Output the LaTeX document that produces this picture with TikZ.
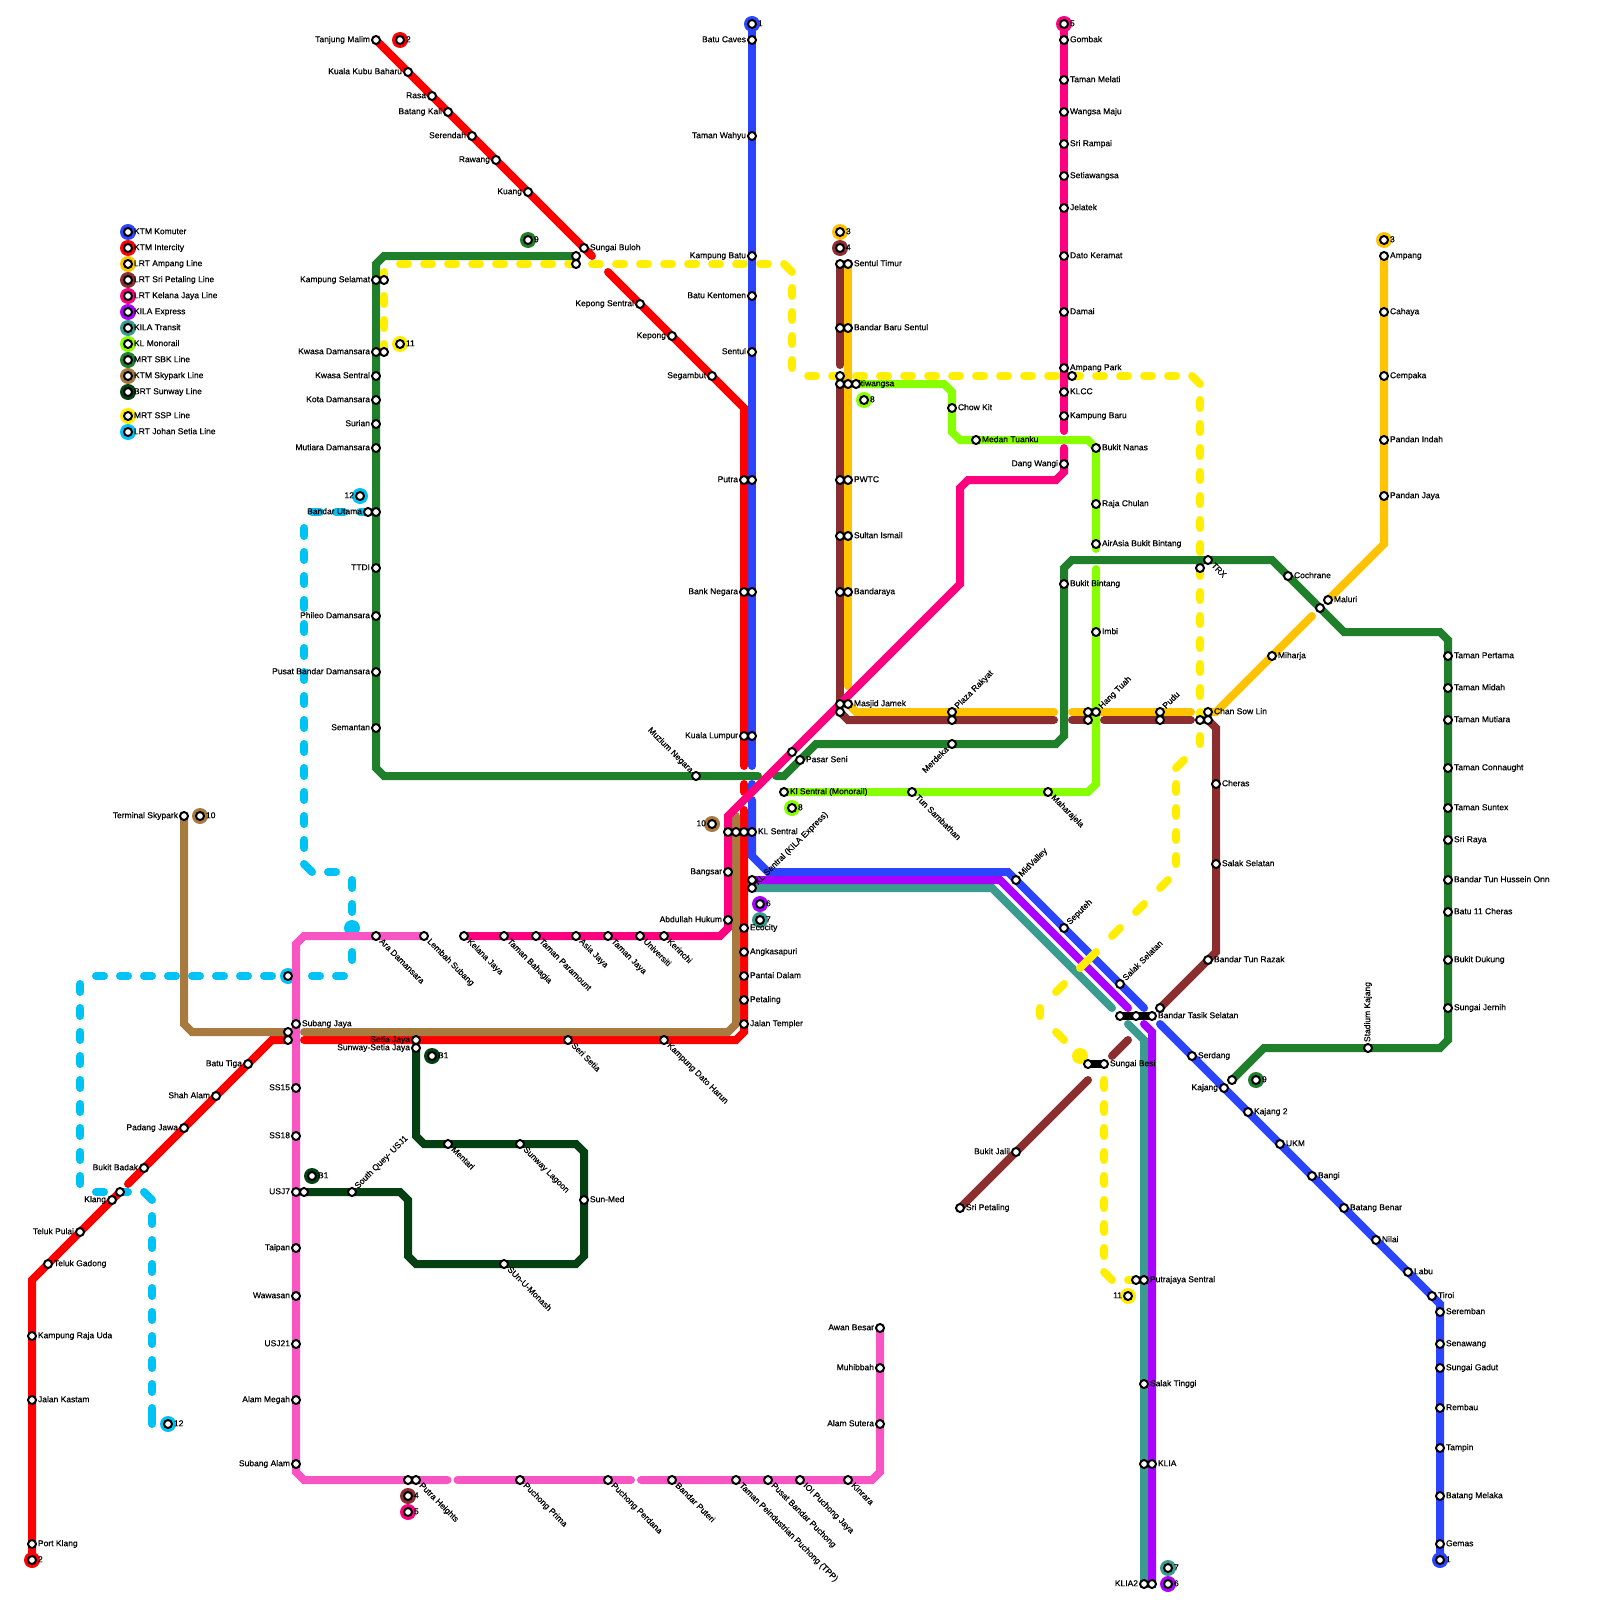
\documentclass[tikz,border=0pt]{standalone}
\usepackage{fontspec}
\setmainfont[FakeBold=0.4]{Liberation Sans}
\definecolor{cKom}{HTML}{2B45FF}
\definecolor{cInt}{HTML}{FF0000}
\definecolor{cAmp}{HTML}{FFC300}
\definecolor{cSri}{HTML}{8A2E2F}
\definecolor{cKel}{HTML}{FF007F}
\definecolor{cExp}{HTML}{AA00FF}
\definecolor{cTra}{HTML}{3A9B8E}
\definecolor{cMon}{HTML}{88FF00}
\definecolor{cSbk}{HTML}{1F7F2B}
\definecolor{cSky}{HTML}{A87A40}
\definecolor{cBrt}{HTML}{054012}
\definecolor{cSsp}{HTML}{FFEE00}
\definecolor{cJoh}{HTML}{00C2F5}
\definecolor{cPnk}{HTML}{F655C3}
\pgfdeclarelayer{bg}
\pgfdeclarelayer{lab}
\pgfsetlayers{bg,lab,main}
\tikzset{
  stat/.style={circle,draw=black,fill=white,line width=2pt,minimum size=8pt,inner sep=0pt,outer sep=0pt},
  disc/.style={circle,minimum size=16pt,inner sep=0pt,outer sep=0pt},
  lab/.style={font=\fontsize{8.5}{10}\selectfont,text=black,inner sep=0pt,outer sep=0pt,text height=6.2pt,text depth=1.8pt},
  labN/.style={lab},
  labR/.style={lab,anchor=west,xshift=6pt},
  labL/.style={lab,anchor=east,xshift=-6pt},
  labD/.style={lab,xshift=4.5pt,yshift=-4.5pt,rotate=-45,anchor=west},
  labU/.style={lab,xshift=4.5pt,yshift=4.5pt,rotate=45,anchor=west},
  labUL/.style={lab,xshift=-4.5pt,yshift=4.5pt,rotate=-45,anchor=east},
  labDL/.style={lab,xshift=-4.5pt,yshift=-4.5pt,rotate=45,anchor=east},
  labV/.style={lab,yshift=6pt,rotate=90,anchor=west},
  ln/.style={line width=8pt,line cap=round,line join=miter,miter limit=10},
}
\newcommand\stn[5]{\node[stat] (#1) at (#2,#3) {};\begin{pgfonlayer}{lab}\node[lab#4] (#1T) at (#2,#3) {#5};\end{pgfonlayer}}
\newcommand\sn[3]{\node[stat] (#1) at (#2,#3) {};}
\newcommand\trm[6]{\begin{pgfonlayer}{bg}\node[disc,fill=#2] (#1D) at (#3,#4) {};\end{pgfonlayer}\node[stat] (#1) at (#3,#4) {};\begin{pgfonlayer}{lab}\node[lab#5] (#1T) at (#3,#4) {#6};\end{pgfonlayer}}
\begin{document}
\begin{tikzpicture}[x=1pt,y=-1pt]
\useasboundingbox (0,0) rectangle (1600,1600);
\begin{pgfonlayer}{bg}\fill[white] (0,0) rectangle (1600,1600);\end{pgfonlayer}
% legend
\trm{LgA}{cKom}{128}{232}{R}{KTM Komuter}
\trm{LgB}{cInt}{128}{248}{R}{KTM Intercity}
\trm{LgC}{cAmp}{128}{264}{R}{LRT Ampang Line}
\trm{LgD}{cSri}{128}{280}{R}{LRT Sri Petaling Line}
\trm{LgE}{cKel}{128}{296}{R}{LRT Kelana Jaya Line}
\trm{LgF}{cExp}{128}{312}{R}{KILA Express}
\trm{LgG}{cTra}{128}{328}{R}{KILA Transit}
\trm{LgH}{cMon}{128}{344}{R}{KL Monorail}
\trm{LgI}{cSbk}{128}{360}{R}{MRT SBK Line}
\trm{LgJ}{cSky}{128}{376}{R}{KTM Skypark Line}
\trm{LgK}{cBrt}{128}{392}{R}{BRT Sunway Line}
\trm{LgL}{cSsp}{128}{416}{R}{MRT SSP Line}
\trm{LgM}{cJoh}{128}{432}{R}{LRT Johan Setia Line}
% terminal markers
\trm{TaA}{cKom}{752}{24}{R}{1}
\trm{TaB}{cKom}{1440}{1560}{R}{1}
\trm{TbA}{cInt}{400}{40}{R}{2}
\trm{TbB}{cInt}{32}{1560}{R}{2}
\trm{TcA}{cAmp}{840}{232}{R}{3}
\trm{TcB}{cAmp}{1384}{240}{R}{3}
\trm{TdA}{cSri}{840}{248}{R}{4}
\trm{TdB}{cSri}{408}{1496}{R}{4}
\trm{TeA}{cKel}{1064}{24}{R}{5}
\trm{TeB}{cKel}{408}{1512}{R}{5}
\trm{TfA}{cExp}{760}{904}{R}{6}
\trm{TfB}{cExp}{1168}{1584}{R}{6}
\trm{TgA}{cTra}{760}{920}{R}{7}
\trm{TgB}{cTra}{1168}{1568}{R}{7}
\trm{ThA}{cMon}{864}{400}{R}{8}
\trm{ThB}{cMon}{792}{808}{R}{8}
\trm{TiA}{cSbk}{528}{240}{R}{9}
\trm{TiB}{cSbk}{1256}{1080}{R}{9}
\trm{TjA}{cSky}{200}{816}{R}{10}
\trm{TjB}{cSky}{712}{824}{L}{10}
\trm{TkA}{cSsp}{400}{344}{R}{11}
\trm{TkB}{cSsp}{1128}{1296}{L}{11}
\trm{TlA}{cJoh}{360}{496}{L}{12}
\trm{TlB}{cJoh}{168}{1424}{R}{12}
\trm{TlC}{cJoh}{288}{976}{N}{}
\trm{TmA}{cBrt}{432}{1056}{R}{B1}
\trm{TmB}{cBrt}{312}{1176}{R}{B1}
% KTM Komuter
\stn{BatuCaves}{752}{40}{L}{Batu Caves}
\stn{TamanWahyu}{752}{136}{L}{Taman Wahyu}
\stn{KgBatu}{752}{256}{L}{Kampung Batu}
\stn{BatuKent}{752}{296}{L}{Batu Kentomen}
\stn{Sentul}{752}{352}{L}{Sentul}
\sn{PutraB}{752}{480}
\sn{BankB}{752}{592}
\sn{KLB}{752}{736}
\stn{KSd}{752}{832}{R}{KL Sentral}
\stn{MidValley}{1016}{880}{U}{MidValley}
\stn{Seputeh}{1064}{928}{U}{Seputeh}
\stn{SalakA}{1120}{984}{U}{Salak Selatan}
\sn{BTSa}{1120}{1016}
\sn{BTSb}{1136}{1016}
\stn{BTSc}{1152}{1016}{R}{Bandar Tasik Selatan}
\stn{Serdang}{1192}{1056}{R}{Serdang}
\stn{Kajang}{1224}{1088}{L}{Kajang}
\stn{KajangB}{1248}{1112}{R}{Kajang 2}
\stn{UKM}{1280}{1144}{R}{UKM}
\stn{Bangi}{1312}{1176}{R}{Bangi}
\stn{BatuBenar}{1344}{1208}{R}{Batang Benar}
\stn{Nilai}{1376}{1240}{R}{Nilai}
\stn{Labu}{1408}{1272}{R}{Labu}
\stn{Tiroi}{1432}{1296}{R}{Tiroi}
\stn{Seremban}{1440}{1312}{R}{Seremban}
\stn{Senawang}{1440}{1344}{R}{Senawang}
\stn{SgGadut}{1440}{1368}{R}{Sungai Gadut}
\stn{Rembau}{1440}{1408}{R}{Rembau}
\stn{Tampin}{1440}{1448}{R}{Tampin}
\stn{BtgMelaka}{1440}{1496}{R}{Batang Melaka}
\stn{Gemas}{1440}{1544}{R}{Gemas}
% KTM Intercity
\stn{TgMalim}{376}{40}{L}{Tanjung Malim}
\stn{KKB}{408}{72}{L}{Kuala Kubu Baharu}
\stn{Rasa}{432}{96}{L}{Rasa}
\stn{BtgKali}{448}{112}{L}{Batang Kali}
\stn{Serendah}{472}{136}{L}{Serendah}
\stn{Rawang}{496}{160}{L}{Rawang}
\stn{Kuang}{528}{192}{L}{Kuang}
\stn{SgBuloh}{584}{248}{R}{Sungai Buloh}
\stn{KepongS}{640}{304}{L}{Kepong Sentral}
\stn{Kepong}{672}{336}{L}{Kepong}
\stn{Segambut}{712}{376}{L}{Segambut}
\stn{PutraA}{744}{480}{L}{Putra}
\stn{BankA}{744}{592}{L}{Bank Negara}
\stn{KLA}{744}{736}{L}{Kuala Lumpur}
\sn{KSc}{744}{832}
\stn{Ecocity}{744}{928}{R}{Ecocity}
\stn{Angkasa}{744}{952}{R}{Angkasapuri}
\stn{Pantai}{744}{976}{R}{Pantai Dalam}
\stn{Petaling}{744}{1000}{R}{Petaling}
\stn{Templer}{744}{1024}{R}{Jalan Templer}
\stn{DatoHarun}{664}{1040}{D}{Kampung Dato Harun}
\stn{SeriSetia}{568}{1040}{D}{Seri Setia}
\stn{SetiaJaya}{416}{1040}{L}{Setia Jaya}
\sn{SJb}{288}{1040}
\stn{BatuTiga}{248}{1064}{L}{Batu Tiga}
\stn{ShahAlam}{216}{1096}{L}{Shah Alam}
\stn{Padang}{184}{1128}{L}{Padang Jawa}
\stn{BkBadak}{144}{1168}{L}{Bukit Badak}
\sn{KlangB}{120}{1192}
\stn{Klang}{112}{1200}{L}{Klang}
\stn{TelukP}{80}{1232}{L}{Teluk Pulai}
\stn{TelukG}{48}{1264}{R}{Teluk Gadong}
\stn{RajaUda}{32}{1336}{R}{Kampung Raja Uda}
\stn{Kastam}{32}{1400}{R}{Jalan Kastam}
\stn{PortKlang}{32}{1544}{R}{Port Klang}
% Ampang / Sri Petaling
\sn{STa}{840}{264}
\stn{STb}{848}{264}{R}{Sentul Timur}
\sn{BBa}{840}{328}
\stn{BBb}{848}{328}{R}{Bandar Baru Sentul}
\sn{TWx}{840}{376}
\sn{TWa}{840}{384}
\stn{TWb}{848}{384}{R}{Titiwangsa}
\sn{TWc}{856}{384}
\sn{PWa}{840}{480}
\stn{PWb}{848}{480}{R}{PWTC}
\sn{SIa}{840}{536}
\stn{SIb}{848}{536}{R}{Sultan Ismail}
\sn{BRa}{840}{592}
\stn{BRb}{848}{592}{R}{Bandaraya}
\sn{MJa}{840}{704}
\stn{MJb}{848}{704}{R}{Masjid Jamek}
\sn{MJc}{840}{712}
\stn{PRa}{952}{712}{U}{Plaza Rakyat}
\sn{PRb}{952}{720}
\sn{HTa}{1088}{712}
\stn{HTc}{1096}{712}{U}{Hang Tuah}
\sn{HTb}{1088}{720}
\stn{Pudu}{1160}{712}{U}{Pudu}
\sn{PuduB}{1160}{720}
\stn{CSa}{1208}{712}{R}{Chan Sow Lin}
\sn{CSb}{1208}{720}
\sn{CSc}{1200}{720}
\stn{Cheras}{1216}{784}{R}{Cheras}
\stn{SalakB}{1216}{864}{R}{Salak Selatan}
\stn{BTR}{1208}{960}{R}{Bandar Tun Razak}
\sn{BTSd}{1160}{1008}
\sn{SBa}{1088}{1064}
\stn{SBb}{1104}{1064}{R}{Sungai Besi}
\stn{BkJalil}{1016}{1152}{L}{Bukit Jalil}
\stn{SriPet}{960}{1208}{R}{Sri Petaling}
\stn{Ampang}{1384}{256}{R}{Ampang}
\stn{Cahaya}{1384}{312}{R}{Cahaya}
\stn{Cempaka}{1384}{376}{R}{Cempaka}
\stn{PanIndah}{1384}{440}{R}{Pandan Indah}
\stn{PanJaya}{1384}{496}{R}{Pandan Jaya}
\stn{MaluriB}{1328}{600}{R}{Maluri}
\stn{Miharja}{1272}{656}{R}{Miharja}
% Kelana Jaya
\stn{Gombak}{1064}{40}{R}{Gombak}
\stn{Melati}{1064}{80}{R}{Taman Melati}
\stn{Wangsa}{1064}{112}{R}{Wangsa Maju}
\stn{Rampai}{1064}{144}{R}{Sri Rampai}
\stn{Setia}{1064}{176}{R}{Setiawangsa}
\stn{Jelatek}{1064}{208}{R}{Jelatek}
\stn{Keramat}{1064}{256}{R}{Dato Keramat}
\stn{Damai}{1064}{312}{R}{Damai}
\stn{AmpPark}{1064}{368}{R}{Ampang Park}
\sn{AmpParkB}{1072}{376}
\stn{KLCC}{1064}{392}{R}{KLCC}
\stn{KgBaru}{1064}{416}{R}{Kampung Baru}
\stn{Dang}{1064}{464}{L}{Dang Wangi}
\sn{PSa}{792}{752}
\sn{KSa}{728}{832}
\stn{Bangsar}{728}{872}{L}{Bangsar}
\stn{Abdullah}{728}{920}{L}{Abdullah Hukum}
\stn{Kerinchi}{664}{936}{D}{Kerinchi}
\stn{Universiti}{640}{936}{D}{Universiti}
\stn{TmJaya}{608}{936}{D}{Taman Jaya}
\stn{AsiaJaya}{576}{936}{D}{Asia Jaya}
\stn{Paramount}{536}{936}{D}{Taman Paramount}
\stn{Bahagia}{504}{936}{D}{Taman Bahagia}
\stn{KelanaJ}{464}{936}{D}{Kelana Jaya}
% Express / Transit
\sn{KExp}{752}{880}
\stn{KTra}{752}{888}{U}{KL Sentral (KILA Express)}
\sn{PSentralA}{1136}{1280}
\stn{PSentralB}{1144}{1280}{R}{Putrajaya Sentral}
\stn{SalakT}{1144}{1384}{R}{Salak Tinggi}
\sn{KLIAa}{1144}{1464}
\stn{KLIAb}{1152}{1464}{R}{KLIA}
\stn{KLIAc}{1144}{1584}{L}{KLIA2}
\sn{KLIAd}{1152}{1584}
% Monorail
\stn{Chow}{952}{408}{R}{Chow Kit}
\stn{Medan}{976}{440}{R}{Medan Tuanku}
\stn{BkNanas}{1096}{448}{R}{Bukit Nanas}
\stn{RajaC}{1096}{504}{R}{Raja Chulan}
\stn{AirAsia}{1096}{544}{R}{AirAsia Bukit Bintang}
\stn{Imbi}{1096}{632}{R}{Imbi}
\stn{Maharajela}{1048}{792}{D}{Maharajela}
\stn{TunS}{912}{792}{D}{Tun Sambathan}
\stn{KlMono}{784}{792}{R}{Kl Sentral (Monorail)}
% SBK
\sn{SBKa}{576}{256}
\sn{SBKb}{576}{264}
\stn{KSLa}{376}{280}{L}{Kampung Selamat}
\sn{KSLb}{384}{280}
\stn{KDa}{376}{352}{L}{Kwasa Damansara}
\sn{KDb}{384}{352}
\stn{KwasaS}{376}{376}{L}{Kwasa Sentral}
\stn{KotaD}{376}{400}{L}{Kota Damansara}
\stn{Surian}{376}{424}{L}{Surian}
\stn{Mutiara}{376}{448}{L}{Mutiara Damansara}
\stn{BUa}{368}{512}{L}{Bandar Utama}
\sn{BUb}{376}{512}
\stn{TTDI}{376}{568}{L}{TTDI}
\stn{Phileo}{376}{616}{L}{Phileo Damansara}
\stn{PusatB}{376}{672}{L}{Pusat Bandar Damansara}
\stn{Semantan}{376}{728}{L}{Semantan}
\stn{Muzium}{696}{776}{UL}{Muzium Negara}
\stn{PSb}{800}{760}{R}{Pasar Seni}
\stn{Merdeka}{952}{744}{DL}{Merdeka}
\stn{BkBintang}{1064}{584}{R}{Bukit Bintang}
\stn{TRXa}{1208}{560}{D}{TRX}
\sn{TRXb}{1200}{568}
\stn{Cochrane}{1288}{576}{R}{Cochrane}
\sn{MaluriA}{1320}{608}
\stn{TgPertama}{1448}{656}{R}{Taman Pertama}
\stn{TgMidah}{1448}{688}{R}{Taman Midah}
\stn{TgMutiara}{1448}{720}{R}{Taman Mutiara}
\stn{TgConn}{1448}{768}{R}{Taman Connaught}
\stn{TgSuntex}{1448}{808}{R}{Taman Suntex}
\stn{SriRaya}{1448}{840}{R}{Sri Raya}
\stn{BTHO}{1448}{880}{R}{Bandar Tun Hussein Onn}
\stn{BatuSb}{1448}{912}{R}{Batu 11 Cheras}
\stn{BkDukung}{1448}{960}{R}{Bukit Dukung}
\stn{SgJernih}{1448}{1008}{R}{Sungai Jernih}
\stn{Stadium}{1368}{1048}{V}{Stadium Kajang}
\sn{KajangC}{1232}{1080}
% Skypark
\stn{TermSky}{184}{816}{L}{Terminal Skypark}
\sn{KSb}{736}{832}
\sn{SJa}{288}{1032}
% pink line
\stn{Lembah}{424}{936}{D}{Lembah Subang}
\stn{Ara}{376}{936}{D}{Ara Damansara}
\stn{SubangJ}{296}{1024}{R}{Subang Jaya}
\stn{SSa}{296}{1088}{L}{SS15}
\stn{SSb}{296}{1136}{L}{SS18}
\stn{USJa}{296}{1192}{L}{USJ7}
\sn{USJb}{304}{1192}
\stn{Taipan}{296}{1248}{L}{Taipan}
\stn{Wawasan}{296}{1296}{L}{Wawasan}
\stn{USJc}{296}{1344}{L}{USJ21}
\stn{AlamM}{296}{1400}{L}{Alam Megah}
\stn{SubangA}{296}{1464}{L}{Subang Alam}
\sn{PHa}{408}{1480}
\stn{PHb}{416}{1480}{D}{Putra Heights}
\stn{PPrima}{520}{1480}{D}{Puchong Prima}
\stn{PPerdana}{608}{1480}{D}{Puchong Perdana}
\stn{BPuteri}{672}{1480}{D}{Bandar Puteri}
\stn{TPP}{736}{1480}{D}{Taman Peindustrian Puchong (TPP)}
\stn{PBP}{768}{1480}{D}{Pusat Bandar Puchong}
\stn{IOI}{800}{1480}{D}{IOI Puchong Jaya}
\stn{Kinrara}{848}{1480}{D}{Kinrara}
\stn{AlamS}{880}{1424}{L}{Alam Sutera}
\stn{Muhibbah}{880}{1368}{L}{Muhibbah}
\stn{Awan}{880}{1328}{L}{Awan Besar}
% BRT
\stn{SunwayS}{416}{1048}{L}{Sunway-Setia Jaya}
\stn{Mentari}{448}{1144}{D}{Mentari}
\stn{Lagoon}{520}{1144}{D}{Sunway Lagoon}
\stn{SunMed}{584}{1200}{R}{Sun-Med}
\stn{Monash}{504}{1264}{D}{SUn-U-Monash}
\stn{Quay}{352}{1192}{U}{South Quey- USJ1}
% routes
\begin{pgfonlayer}{bg}
\fill[cJoh] (352,928) circle (8);
\fill[cSsp] (1080,1056) circle (8);
% Johan Setia dashes
\begin{scope}[ln,cJoh,draw=cJoh]
\draw (BUa.center) -- (360,512);
\foreach \x in {336,312} \draw (\x,512) -- ++(8,0);
\foreach \y in {528,552,...,840} \draw (304,\y) -- ++(0,8);
\draw (304,864) -- (312,872);
\draw (328,872) -- (336,872);
\foreach \y in {880,904,952} \draw (352,\y) -- ++(0,8);
\foreach \x in {336,312,264,240,216,192,168,144,120,96} \draw (\x,976) -- ++(8,0);
\foreach \y in {984,1008,...,1176} \draw (80,\y) -- ++(0,8);
\foreach \x in {96,120} \draw (\x,1192) -- ++(8,0);
\draw (144,1192) -- (152,1200);
\foreach \y in {1216,1240,...,1384} \draw (152,\y) -- ++(0,8);
\draw (152,1408) -- (152,1424);
\end{scope}
% MRT SBK
\draw[ln,cSbk] (SBKa.center) -- (384,256) -- (376,264) -- (376,768) -- (384,776) -- (758,776);
\draw[ln,cSbk] (776,776) -- (784,776) -- (816,744) -- (1056,744) -- (1064,736) -- (1064,568) -- (1072,560) -- (1272,560) -- (1344,632) -- (1440,632) -- (1448,640) -- (1448,1040) -- (1440,1048) -- (1264,1048) -- (KajangC.center);
% Komuter
\draw[ln,cKom] (TaA.center) -- (752,766);
\draw[ln,cKom] (752,784) -- (752,790);
\draw[ln,cKom] (752,800) -- (752,856) -- (768,872) -- (1008,872) -- (1144,1008);
\draw[ln,cKom] (1160,1024) -- (Tiroi.center) -- (1440,1304) -- (TaB.center);
% Intercity
\draw[ln,cInt] (TgMalim.center) -- (592,256);
\draw[ln,cInt] (608,272) -- (744,408) -- (744,766);
\draw[ln,cInt] (744,784) -- (744,792);
\draw[ln,cInt] (744,810) -- (744,1032) -- (736,1040) -- (304,1040);
\draw[ln,cInt] (SJb.center) -- (272,1040) -- (128,1184);
\draw[ln,cInt] (KlangB.center) -- (32,1280) -- (TbB.center);
% Skypark
\draw[ln,cSky] (TermSky.center) -- (184,1024) -- (192,1032) -- (SJa.center);
\draw[ln,cSky] (304,1032) -- (728,1032) -- (736,1024) -- (736,816);
% Ampang
\draw[ln,cAmp] (STb.center) -- (848,686);
\draw[ln,cAmp] (MJb.center) -- (856,712) -- (1054,712);
\draw[ln,cAmp] (1072,712) -- (1191,712);
\draw[ln,cAmp] (CSa.center) -- (1216,712) -- (1312,616);
\draw[ln,cAmp] (MaluriB.center) -- (1384,544) -- (Ampang.center);
% Sri Petaling
\draw[ln,cSri] (STa.center) -- (840,365);
\draw[ln,cSri] (TWa.center) -- (MJa.center);
\draw[ln,cSri] (MJc.center) -- (848,720) -- (1054,720);
\draw[ln,cSri] (1072,720) -- (HTb.center);
\draw[ln,cSri] (1104,720) -- (1191,720);
\draw[ln,cSri] (CSb.center) -- (1216,728) -- (1216,952) -- (BTSd.center);
\draw[ln,cSri] (1128,1040) -- (1112,1056);
\draw[ln,cSri] (1088,1080) -- (SriPet.center);
% Monorail
\draw[ln,cMon] (TWc.center) -- (944,384) -- (952,392) -- (952,432) -- (960,440) -- (1088,440) -- (1096,448) -- (1096,549);
\draw[ln,cMon] (1096,569) -- (1096,784) -- (1088,792) -- (KlMono.center);
% Kelana Jaya
\draw[ln,cKel] (TeA.center) -- (1064,431);
\draw[ln,cKel] (1064,448) -- (1064,472) -- (1056,480) -- (968,480) -- (960,488) -- (960,584) -- (728,816) -- (728,928) -- (720,936) -- (KelanaJ.center);
% Transit and Express
\draw[ln,cTra] (KTra.center) -- (992,888) -- (1112,1008);
\draw[ln,cExp] (KExp.center) -- (1000,880) -- (1128,1008);
\draw[ln,cTra] (1128,1024) -- (1144,1040) -- (KLIAc.center);
\draw[ln,cExp] (1144,1024) -- (1152,1032) -- (KLIAd.center);
% pink line
\draw[ln,cPnk] (Lembah.center) -- (304,936) -- (296,944) -- (296,1472) -- (304,1480) -- (447.5,1480);
\draw[ln,cPnk] (457.5,1480) -- (631,1480);
\draw[ln,cPnk] (641,1480) -- (872,1480) -- (880,1472) -- (Awan.center);
% BRT
\draw[ln,cBrt] (USJb.center) -- (400,1192) -- (408,1200) -- (408,1256) -- (416,1264) -- (576,1264) -- (584,1256) -- (584,1152) -- (576,1144) -- (424,1144) -- (416,1136) -- (SunwayS.center);
% SSP dashes
\begin{scope}[ln,cSsp,draw=cSsp]
\foreach \y in {272,296,320,344} \draw (384,\y) -- ++(0,8);
\foreach \x in {400,424,...,760} \draw (\x,264) -- ++(8,0);
\draw (784,264) -- (792,272);
\foreach \y in {288,312,336,360} \draw (792,\y) -- ++(0,8);
\foreach \x in {808,832,...,1168} \draw (\x,376) -- ++(8,0);
\draw (1192,376) -- (1200,384);
\foreach \y in {400,424,...,736} \draw (1200,\y) -- ++(0,8);
\draw (1184,760) -- (1176,768);
\foreach \y in {784,808,832,856} \draw (1176,\y) -- ++(0,8);
\draw (1168,880) -- (1160,888);
\draw (1144,904) -- (1136,912);
\draw (1120,928) -- (1112,936);
\draw (1096,952) -- (1080,968);
\draw (1064,984) -- (1056,992);
\draw (1040,1008) -- (1040,1016);
\draw (1056,1032) -- (1064,1040);
\foreach \y in {1080,1104,...,1248} \draw (1104,\y) -- ++(0,8);
\draw (1104,1272) -- (1112,1280);
\draw (1128,1280) -- (PSentralA.center);
\end{scope}
% interchange links
\draw[line width=8pt,black] (BTSa.center) -- (BTSc.center);
\draw[line width=8pt,black] (SBa.center) -- (SBb.center);
\end{pgfonlayer}
\end{tikzpicture}
\end{document}
